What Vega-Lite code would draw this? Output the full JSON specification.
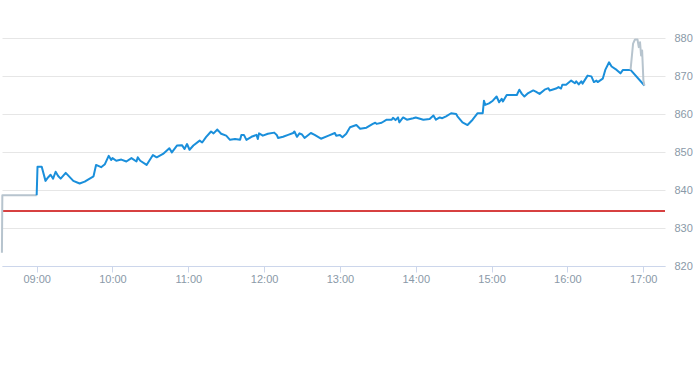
{
  "$schema": "https://vega.github.io/schema/vega-lite/v6.json",
  "width": 693,
  "height": 365,
  "autosize": {"type": "fit", "contains": "padding"},
  "padding": {"left": 0, "top": 0, "right": 0, "bottom": 81},
  "config": {"view": {"stroke": null}},
  "data": {"values": [
      {"t": "2024-01-02T08:32:30", "v": 823.5, "s": "pre"},
      {"t": "2024-01-02T08:32:50", "v": 838.6, "s": "pre"},
      {"t": "2024-01-02T09:00:00", "v": 838.6, "s": "pre"},
      {"t": "2024-01-02T09:00:00", "v": 838.6, "s": "main"},
      {"t": "2024-01-02T09:00:40", "v": 846.1, "s": "main"},
      {"t": "2024-01-02T09:04:00", "v": 846.1, "s": "main"},
      {"t": "2024-01-02T09:07:00", "v": 842.4, "s": "main"},
      {"t": "2024-01-02T09:09:00", "v": 843.3, "s": "main"},
      {"t": "2024-01-02T09:11:00", "v": 844.0, "s": "main"},
      {"t": "2024-01-02T09:13:00", "v": 843.0, "s": "main"},
      {"t": "2024-01-02T09:15:00", "v": 844.8, "s": "main"},
      {"t": "2024-01-02T09:17:00", "v": 843.7, "s": "main"},
      {"t": "2024-01-02T09:19:00", "v": 843.0, "s": "main"},
      {"t": "2024-01-02T09:23:00", "v": 844.5, "s": "main"},
      {"t": "2024-01-02T09:29:00", "v": 842.4, "s": "main"},
      {"t": "2024-01-02T09:34:00", "v": 841.7, "s": "main"},
      {"t": "2024-01-02T09:38:00", "v": 842.2, "s": "main"},
      {"t": "2024-01-02T09:45:00", "v": 843.6, "s": "main"},
      {"t": "2024-01-02T09:47:00", "v": 846.6, "s": "main"},
      {"t": "2024-01-02T09:51:00", "v": 846.0, "s": "main"},
      {"t": "2024-01-02T09:54:00", "v": 846.8, "s": "main"},
      {"t": "2024-01-02T09:57:00", "v": 849.0, "s": "main"},
      {"t": "2024-01-02T09:59:00", "v": 847.9, "s": "main"},
      {"t": "2024-01-02T10:00:00", "v": 848.4, "s": "main"},
      {"t": "2024-01-02T10:03:00", "v": 847.7, "s": "main"},
      {"t": "2024-01-02T10:07:00", "v": 848.0, "s": "main"},
      {"t": "2024-01-02T10:11:00", "v": 847.5, "s": "main"},
      {"t": "2024-01-02T10:15:00", "v": 848.4, "s": "main"},
      {"t": "2024-01-02T10:19:00", "v": 847.5, "s": "main"},
      {"t": "2024-01-02T10:20:00", "v": 848.6, "s": "main"},
      {"t": "2024-01-02T10:22:00", "v": 847.7, "s": "main"},
      {"t": "2024-01-02T10:27:00", "v": 846.6, "s": "main"},
      {"t": "2024-01-02T10:32:00", "v": 849.2, "s": "main"},
      {"t": "2024-01-02T10:35:00", "v": 848.6, "s": "main"},
      {"t": "2024-01-02T10:40:00", "v": 849.5, "s": "main"},
      {"t": "2024-01-02T10:45:00", "v": 851.0, "s": "main"},
      {"t": "2024-01-02T10:47:00", "v": 849.9, "s": "main"},
      {"t": "2024-01-02T10:51:00", "v": 851.7, "s": "main"},
      {"t": "2024-01-02T10:55:00", "v": 851.8, "s": "main"},
      {"t": "2024-01-02T10:57:00", "v": 850.8, "s": "main"},
      {"t": "2024-01-02T10:59:00", "v": 852.1, "s": "main"},
      {"t": "2024-01-02T11:01:00", "v": 850.6, "s": "main"},
      {"t": "2024-01-02T11:04:00", "v": 851.7, "s": "main"},
      {"t": "2024-01-02T11:09:00", "v": 853.0, "s": "main"},
      {"t": "2024-01-02T11:11:00", "v": 852.5, "s": "main"},
      {"t": "2024-01-02T11:14:00", "v": 853.9, "s": "main"},
      {"t": "2024-01-02T11:18:00", "v": 855.4, "s": "main"},
      {"t": "2024-01-02T11:20:00", "v": 854.9, "s": "main"},
      {"t": "2024-01-02T11:23:00", "v": 855.9, "s": "main"},
      {"t": "2024-01-02T11:26:00", "v": 854.8, "s": "main"},
      {"t": "2024-01-02T11:30:00", "v": 854.3, "s": "main"},
      {"t": "2024-01-02T11:33:00", "v": 853.2, "s": "main"},
      {"t": "2024-01-02T11:37:00", "v": 853.4, "s": "main"},
      {"t": "2024-01-02T11:41:00", "v": 853.2, "s": "main"},
      {"t": "2024-01-02T11:42:00", "v": 854.5, "s": "main"},
      {"t": "2024-01-02T11:44:00", "v": 854.5, "s": "main"},
      {"t": "2024-01-02T11:46:00", "v": 853.2, "s": "main"},
      {"t": "2024-01-02T11:50:00", "v": 854.0, "s": "main"},
      {"t": "2024-01-02T11:54:00", "v": 854.5, "s": "main"},
      {"t": "2024-01-02T11:55:00", "v": 853.4, "s": "main"},
      {"t": "2024-01-02T11:56:00", "v": 854.9, "s": "main"},
      {"t": "2024-01-02T11:59:00", "v": 854.3, "s": "main"},
      {"t": "2024-01-02T12:03:00", "v": 854.8, "s": "main"},
      {"t": "2024-01-02T12:08:00", "v": 855.1, "s": "main"},
      {"t": "2024-01-02T12:10:00", "v": 854.5, "s": "main"},
      {"t": "2024-01-02T12:11:00", "v": 853.7, "s": "main"},
      {"t": "2024-01-02T12:15:00", "v": 854.0, "s": "main"},
      {"t": "2024-01-02T12:19:00", "v": 854.5, "s": "main"},
      {"t": "2024-01-02T12:23:00", "v": 855.0, "s": "main"},
      {"t": "2024-01-02T12:24:00", "v": 855.4, "s": "main"},
      {"t": "2024-01-02T12:26:00", "v": 854.0, "s": "main"},
      {"t": "2024-01-02T12:28:00", "v": 854.9, "s": "main"},
      {"t": "2024-01-02T12:30:00", "v": 854.6, "s": "main"},
      {"t": "2024-01-02T12:32:00", "v": 853.7, "s": "main"},
      {"t": "2024-01-02T12:37:00", "v": 855.0, "s": "main"},
      {"t": "2024-01-02T12:40:00", "v": 854.5, "s": "main"},
      {"t": "2024-01-02T12:45:00", "v": 853.5, "s": "main"},
      {"t": "2024-01-02T12:51:00", "v": 854.3, "s": "main"},
      {"t": "2024-01-02T12:56:00", "v": 855.0, "s": "main"},
      {"t": "2024-01-02T12:57:00", "v": 854.3, "s": "main"},
      {"t": "2024-01-02T13:00:00", "v": 854.5, "s": "main"},
      {"t": "2024-01-02T13:02:00", "v": 853.9, "s": "main"},
      {"t": "2024-01-02T13:05:00", "v": 854.8, "s": "main"},
      {"t": "2024-01-02T13:08:00", "v": 856.5, "s": "main"},
      {"t": "2024-01-02T13:13:00", "v": 857.1, "s": "main"},
      {"t": "2024-01-02T13:16:00", "v": 856.1, "s": "main"},
      {"t": "2024-01-02T13:21:00", "v": 856.4, "s": "main"},
      {"t": "2024-01-02T13:26:00", "v": 857.4, "s": "main"},
      {"t": "2024-01-02T13:28:00", "v": 857.7, "s": "main"},
      {"t": "2024-01-02T13:29:00", "v": 857.4, "s": "main"},
      {"t": "2024-01-02T13:33:00", "v": 857.7, "s": "main"},
      {"t": "2024-01-02T13:37:00", "v": 858.5, "s": "main"},
      {"t": "2024-01-02T13:41:00", "v": 858.5, "s": "main"},
      {"t": "2024-01-02T13:42:00", "v": 859.0, "s": "main"},
      {"t": "2024-01-02T13:44:00", "v": 858.4, "s": "main"},
      {"t": "2024-01-02T13:46:00", "v": 859.1, "s": "main"},
      {"t": "2024-01-02T13:47:00", "v": 857.8, "s": "main"},
      {"t": "2024-01-02T13:50:00", "v": 859.1, "s": "main"},
      {"t": "2024-01-02T13:53:00", "v": 858.5, "s": "main"},
      {"t": "2024-01-02T13:58:00", "v": 858.9, "s": "main"},
      {"t": "2024-01-02T14:00:00", "v": 859.1, "s": "main"},
      {"t": "2024-01-02T14:06:00", "v": 858.5, "s": "main"},
      {"t": "2024-01-02T14:11:00", "v": 858.7, "s": "main"},
      {"t": "2024-01-02T14:14:00", "v": 859.6, "s": "main"},
      {"t": "2024-01-02T14:16:00", "v": 858.5, "s": "main"},
      {"t": "2024-01-02T14:19:00", "v": 859.1, "s": "main"},
      {"t": "2024-01-02T14:21:00", "v": 858.9, "s": "main"},
      {"t": "2024-01-02T14:24:00", "v": 859.4, "s": "main"},
      {"t": "2024-01-02T14:28:00", "v": 860.2, "s": "main"},
      {"t": "2024-01-02T14:32:00", "v": 860.0, "s": "main"},
      {"t": "2024-01-02T14:33:00", "v": 859.4, "s": "main"},
      {"t": "2024-01-02T14:37:00", "v": 857.8, "s": "main"},
      {"t": "2024-01-02T14:41:00", "v": 857.1, "s": "main"},
      {"t": "2024-01-02T14:45:00", "v": 858.5, "s": "main"},
      {"t": "2024-01-02T14:49:00", "v": 860.2, "s": "main"},
      {"t": "2024-01-02T14:53:00", "v": 860.2, "s": "main"},
      {"t": "2024-01-02T14:54:00", "v": 863.5, "s": "main"},
      {"t": "2024-01-02T14:55:00", "v": 862.4, "s": "main"},
      {"t": "2024-01-02T14:58:00", "v": 862.8, "s": "main"},
      {"t": "2024-01-02T15:01:00", "v": 863.5, "s": "main"},
      {"t": "2024-01-02T15:04:00", "v": 864.6, "s": "main"},
      {"t": "2024-01-02T15:06:00", "v": 863.1, "s": "main"},
      {"t": "2024-01-02T15:08:00", "v": 864.0, "s": "main"},
      {"t": "2024-01-02T15:09:00", "v": 863.3, "s": "main"},
      {"t": "2024-01-02T15:12:00", "v": 865.0, "s": "main"},
      {"t": "2024-01-02T15:20:00", "v": 865.0, "s": "main"},
      {"t": "2024-01-02T15:22:00", "v": 866.4, "s": "main"},
      {"t": "2024-01-02T15:24:00", "v": 865.3, "s": "main"},
      {"t": "2024-01-02T15:26:00", "v": 864.6, "s": "main"},
      {"t": "2024-01-02T15:29:00", "v": 865.5, "s": "main"},
      {"t": "2024-01-02T15:33:00", "v": 866.2, "s": "main"},
      {"t": "2024-01-02T15:35:00", "v": 865.9, "s": "main"},
      {"t": "2024-01-02T15:38:00", "v": 865.3, "s": "main"},
      {"t": "2024-01-02T15:42:00", "v": 866.4, "s": "main"},
      {"t": "2024-01-02T15:45:00", "v": 866.8, "s": "main"},
      {"t": "2024-01-02T15:46:00", "v": 866.2, "s": "main"},
      {"t": "2024-01-02T15:48:00", "v": 866.4, "s": "main"},
      {"t": "2024-01-02T15:51:00", "v": 866.7, "s": "main"},
      {"t": "2024-01-02T15:53:00", "v": 867.1, "s": "main"},
      {"t": "2024-01-02T15:55:00", "v": 866.7, "s": "main"},
      {"t": "2024-01-02T15:56:00", "v": 867.7, "s": "main"},
      {"t": "2024-01-02T15:59:00", "v": 867.7, "s": "main"},
      {"t": "2024-01-02T16:03:00", "v": 868.8, "s": "main"},
      {"t": "2024-01-02T16:06:00", "v": 868.1, "s": "main"},
      {"t": "2024-01-02T16:07:00", "v": 868.6, "s": "main"},
      {"t": "2024-01-02T16:09:00", "v": 867.8, "s": "main"},
      {"t": "2024-01-02T16:11:00", "v": 868.6, "s": "main"},
      {"t": "2024-01-02T16:12:00", "v": 868.0, "s": "main"},
      {"t": "2024-01-02T16:16:00", "v": 870.1, "s": "main"},
      {"t": "2024-01-02T16:19:00", "v": 869.9, "s": "main"},
      {"t": "2024-01-02T16:21:00", "v": 868.4, "s": "main"},
      {"t": "2024-01-02T16:23:00", "v": 868.8, "s": "main"},
      {"t": "2024-01-02T16:24:00", "v": 868.4, "s": "main"},
      {"t": "2024-01-02T16:28:00", "v": 869.3, "s": "main"},
      {"t": "2024-01-02T16:30:00", "v": 871.6, "s": "main"},
      {"t": "2024-01-02T16:33:00", "v": 873.6, "s": "main"},
      {"t": "2024-01-02T16:35:00", "v": 872.5, "s": "main"},
      {"t": "2024-01-02T16:39:00", "v": 871.6, "s": "main"},
      {"t": "2024-01-02T16:42:00", "v": 870.7, "s": "main"},
      {"t": "2024-01-02T16:44:00", "v": 871.6, "s": "main"},
      {"t": "2024-01-02T16:50:00", "v": 871.6, "s": "main"},
      {"t": "2024-01-02T17:01:00", "v": 867.5, "s": "main"},
      {"t": "2024-01-02T16:50:00", "v": 871.6, "s": "post"},
      {"t": "2024-01-02T16:52:00", "v": 878.5, "s": "post"},
      {"t": "2024-01-02T16:53:30", "v": 879.6, "s": "post"},
      {"t": "2024-01-02T16:55:30", "v": 879.6, "s": "post"},
      {"t": "2024-01-02T16:56:30", "v": 877.6, "s": "post"},
      {"t": "2024-01-02T16:57:30", "v": 878.9, "s": "post"},
      {"t": "2024-01-02T16:58:20", "v": 875.4, "s": "post"},
      {"t": "2024-01-02T16:59:10", "v": 876.7, "s": "post"},
      {"t": "2024-01-02T17:00:10", "v": 868.8, "s": "post"},
      {"t": "2024-01-02T17:01:00", "v": 867.5, "s": "post"}
  ]},
  "encoding": {
    "x": {
      "field": "t",
      "type": "temporal",
      "scale": {"domain": [
        {"year": 2024, "month": 1, "date": 2, "hours": 8, "minutes": 32, "seconds": 34},
        {"year": 2024, "month": 1, "date": 2, "hours": 17, "minutes": 17, "seconds": 16}
      ]},
      "axis": {
        "title": null,
        "format": "%H:%M",
        "tickCount": 10,
        "grid": false,
        "domainColor": "#ccd6eb",
        "tickColor": "#ccd6eb",
        "tickSize": 6,
        "labelPadding": 1,
        "labelColor": "#8a99a8",
        "labelFont": "Liberation Sans",
        "labelFontSize": 11
      }
    },
    "y": {
      "field": "v",
      "type": "quantitative",
      "scale": {"domain": [820, 890], "nice": false, "zero": false},
      "axis": {
        "title": null,
        "orient": "right",
        "values": [820, 830, 840, 850, 860, 870, 880],
        "grid": true,
        "gridColor": "#e6e6e6",
        "domain": false,
        "ticks": false,
        "labelPadding": 9,
        "labelColor": "#8a99a8",
        "labelFont": "Liberation Sans",
        "labelFontSize": 11
      }
    }
  },
  "layer": [
    {
      "mark": {"type": "rule", "color": "#d64040", "strokeWidth": 1},
      "encoding": {
        "x": null,
        "y": {"datum": 834.4, "type": "quantitative"}
      }
    },
    {
      "mark": {"type": "line", "strokeWidth": 2, "strokeJoin": "round"},
      "encoding": {
        "color": {
          "field": "s",
          "type": "nominal",
          "scale": {"domain": ["pre", "main", "post"], "range": ["#b7c4ce", "#1a8fdb", "#b7c4ce"]},
          "legend": null
        }
      }
    }
  ]
}
